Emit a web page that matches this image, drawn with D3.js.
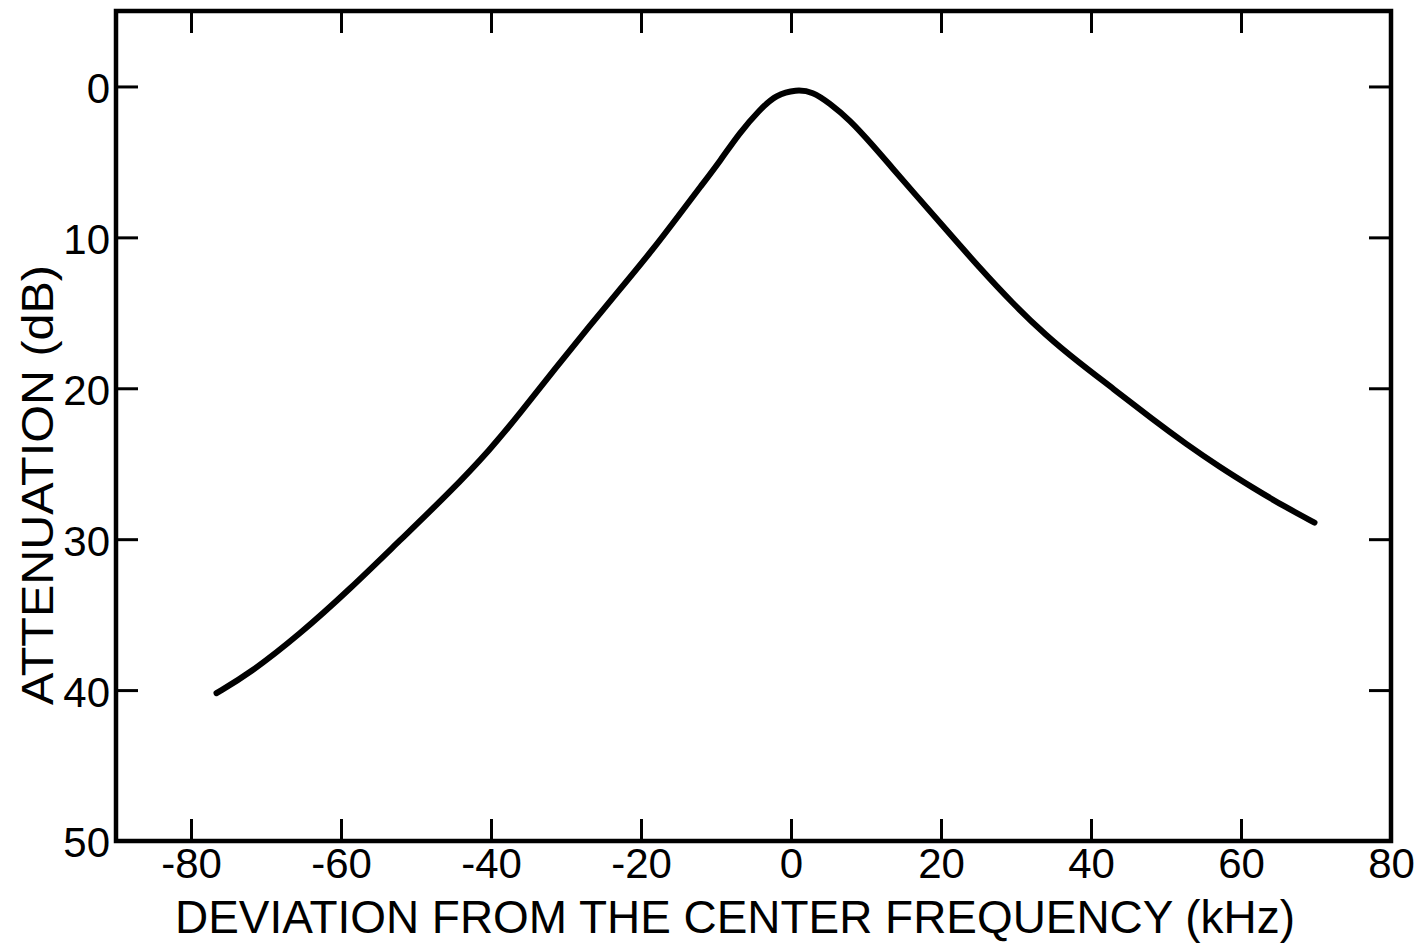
<!DOCTYPE html>
<html>
<head>
<meta charset="utf-8">
<script src="https://cdn.jsdelivr.net/npm/d3@7"></script>
<style>
  html, body { margin: 0; padding: 0; background: #fff; }
  svg { display: block; }
  text { font-family: "Liberation Sans", "DejaVu Sans", Arial, sans-serif; fill: #000; }
</style>
</head>
<body>
<svg id="chart" width="1428" height="945"></svg>
<script>
// ---- Data ----
const freqKHz = [-76.6, -72.2, -65.5, -58.8, -52.2, -45.5, -40.0, -36.2, -31.3, -26.9, -22.9, -18.4,
                 -14.9, -12.0, -9.4, -6.9, -4.2, -2.0, 0.7, 2.9, 5.1, 7.8, 10.9, 13.5, 16.3,
                 20.7, 25.1, 29.6, 34.0, 38.4, 42.9, 48.3, 52.7, 57.1, 61.6, 66.0, 69.8];
const attenuationDb = [40.2, 38.9, 36.3, 33.3, 30.1, 26.9, 24.0, 21.7, 18.6, 15.9, 13.5, 10.8,
                       8.5, 6.6, 4.9, 3.1, 1.55, 0.55, 0.2, 0.35, 1.1, 2.2, 3.9, 5.4, 7.0,
                       9.5, 12.0, 14.4, 16.5, 18.3, 20.0, 22.1, 23.7, 25.2, 26.6, 27.9, 28.9];
const xTicks = [-80, -60, -40, -20, 0, 20, 40, 60, 80];
const yTicks = [0, 10, 20, 30, 40, 50];
const xTitle = "DEVIATION FROM THE CENTER FREQUENCY (kHz)";
const yTitle = "ATTENUATION (dB)";

(function () {
// ---- Layout ----
const svg = d3.select("#chart");
const mLeft = 116, mRight = 1391, mTop = 11, mBottom = 841;

const x = d3.scaleLinear().domain([-90, 80]).range([mLeft, mRight]);
const y = d3.scaleLinear().domain([-5, 50]).range([mTop, mBottom]);

const tickLen = 22;

// bottom axis (ticks inward, labels)
const gx = svg.append("g").attr("transform", `translate(0,${mBottom})`)
  .call(d3.axisBottom(x).tickValues(xTicks).tickSize(-tickLen).tickPadding(7)
        .tickFormat(d => d < 0 ? "-" + Math.abs(d) : String(d)));
// top axis (ticks inward, no labels)
const gxt = svg.append("g").attr("transform", `translate(0,${mTop})`)
  .call(d3.axisTop(x).tickValues(xTicks).tickSize(-tickLen).tickFormat(""));
// left axis (ticks inward, labels)
const gy = svg.append("g").attr("transform", `translate(${mLeft},0)`)
  .call(d3.axisLeft(y).tickValues(yTicks).tickSize(-tickLen).tickPadding(6)
        .tickFormat(d3.format("d")));
// right axis (ticks inward, no labels)
const gyr = svg.append("g").attr("transform", `translate(${mRight},0)`)
  .call(d3.axisRight(y).tickValues(yTicks).tickSize(-tickLen).tickFormat(""));

[gx, gxt, gy, gyr].forEach(g => {
  g.select(".domain").remove();
  g.selectAll(".tick line").attr("stroke", "#000").attr("stroke-width", 3);
  g.selectAll("text").attr("font-size", 42).attr("fill", "#000")
    .attr("font-family", "'Liberation Sans', 'DejaVu Sans', Arial, sans-serif");
});
gy.selectAll("text").attr("dy", "0.38em");

// frame
svg.append("rect")
  .attr("x", mLeft).attr("y", mTop)
  .attr("width", mRight - mLeft).attr("height", mBottom - mTop)
  .attr("fill", "none").attr("stroke", "#000").attr("stroke-width", 4.5);

// curve
const pts = freqKHz.map((f, i) => [f, attenuationDb[i]]);
const line = d3.line().x(d => x(d[0])).y(d => y(d[1])).curve(d3.curveBasis);
svg.append("path").datum(pts)
  .attr("d", line)
  .attr("fill", "none").attr("stroke", "#000")
  .attr("stroke-width", 6).attr("stroke-linecap", "round").attr("stroke-linejoin", "round");

// axis titles
svg.append("text")
  .attr("x", 735).attr("y", 933)
  .attr("text-anchor", "middle")
  .attr("font-size", 46)
  .attr("textLength", 1120).attr("lengthAdjust", "spacingAndGlyphs")
  .text(xTitle);

svg.append("text")
  .attr("transform", "translate(53,485) rotate(-90)")
  .attr("text-anchor", "middle")
  .attr("font-size", 44)
  .attr("textLength", 440).attr("lengthAdjust", "spacingAndGlyphs")
  .text(yTitle);
})();
</script>
</body>
</html>
